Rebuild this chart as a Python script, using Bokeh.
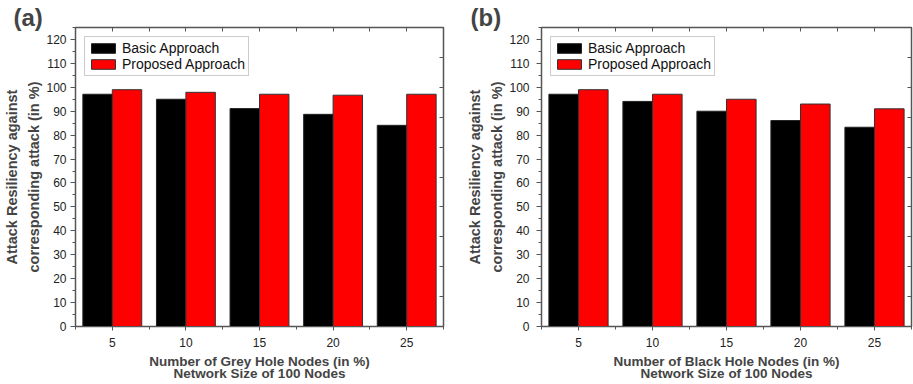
from bokeh.plotting import figure
from bokeh.layouts import row
from bokeh.models import (Range1d, LinearAxis, FixedTicker, Title,
                          Legend, LegendItem, ColumnDataSource)
from bokeh.embed import file_html
from bokeh.resources import INLINE

# ---------------- data ----------------
nodes = [5, 10, 15, 20, 25]
x_ticks = [5, 10, 15, 20, 25]
y_ticks = [0, 10, 20, 30, 40, 50, 60, 70, 80, 90, 100, 110, 120]

grey_basic = [97.1, 95.0, 91.1, 88.7, 84.1]
grey_proposed = [99.0, 97.9, 97.1, 96.7, 97.1]

black_basic = [97.1, 94.1, 90.0, 86.1, 83.3]
black_proposed = [99.0, 97.1, 95.0, 93.0, 91.0]

series_names = ["Basic Approach", "Proposed Approach"]
y_title = ["Attack Resiliency against", "corresponding attack (in %)"]
x_titles_a = ["Number of Grey Hole Nodes (in %)", "Network Size of 100 Nodes"]
x_titles_b = ["Number of Black Hole Nodes (in %)", "Network Size of 100 Nodes"]

FONT = "Liberation Sans"
AX = "#555555"
H = 384


def make_panel(tag, basic, proposed, xtitles, width, bl, br, bt, bb,
               tag_offset, ylab_standoff):
    p = figure(width=width, height=H, output_backend="svg", toolbar_location=None,
               x_range=Range1d(2.5, 27.5), y_range=Range1d(0, 125),
               min_border_left=bl, min_border_right=br, min_border_top=bt,
               min_border_bottom=bb, x_axis_location=None, y_axis_location=None)
    p.xgrid.visible = False
    p.ygrid.visible = False
    p.outline_line_color = AX
    p.outline_line_width = 1.5

    # bottom axis
    xb = LinearAxis(ticker=FixedTicker(ticks=x_ticks,
                                       minor_ticks=[2.5, 7.5, 12.5, 17.5, 22.5, 27.5]))
    xb.major_tick_out = 4
    xb.major_tick_in = 0
    xb.minor_tick_out = 3
    xb.minor_tick_in = 0
    xb.axis_line_color = AX
    xb.major_tick_line_color = AX
    xb.minor_tick_line_color = AX
    xb.major_label_text_font = FONT
    xb.major_label_text_font_size = "12px"
    xb.major_label_text_color = "#222222"
    xb.major_label_standoff = 7
    p.add_layout(xb, "below")

    # left axis
    yl = LinearAxis(ticker=FixedTicker(ticks=y_ticks,
                                       minor_ticks=[v + 5 for v in y_ticks]))
    yl.major_tick_out = 5
    yl.major_tick_in = 0
    yl.minor_tick_out = 3
    yl.minor_tick_in = 0
    yl.axis_line_color = AX
    yl.major_tick_line_color = AX
    yl.minor_tick_line_color = AX
    yl.major_label_text_font = FONT
    yl.major_label_text_font_size = "12px"
    yl.major_label_text_color = "#222222"
    yl.major_label_standoff = ylab_standoff
    p.add_layout(yl, "left")

    # top mirror axis (ticks only)
    top_ticks = [2.5 * i for i in range(1, 12)]
    xt = LinearAxis(ticker=FixedTicker(ticks=top_ticks, minor_ticks=[]))
    xt.major_tick_in = 4
    xt.major_tick_out = 0
    xt.minor_tick_line_color = None
    xt.axis_line_color = AX
    xt.major_tick_line_color = AX
    xt.major_label_text_color = None
    xt.major_label_text_font_size = "1px"
    xt.major_label_standoff = 0
    p.add_layout(xt, "above")

    # right mirror axis (ticks only)
    right_ticks = [12.5 * i for i in range(1, 10)]
    yr = LinearAxis(ticker=FixedTicker(ticks=right_ticks, minor_ticks=[]))
    yr.major_tick_in = 4
    yr.major_tick_out = 0
    yr.minor_tick_line_color = None
    yr.axis_line_color = AX
    yr.major_tick_line_color = AX
    yr.major_label_text_color = None
    yr.major_label_text_font_size = "1px"
    yr.major_label_standoff = 0
    p.add_layout(yr, "right")

    src = ColumnDataSource(dict(
        xb=[n - 1 for n in nodes], xp=[n + 1 for n in nodes],
        basic=basic, proposed=proposed))
    r1 = p.vbar(x="xb", top="basic", width=2, bottom=0, source=src,
                fill_color="#000000", line_color="#222222", line_width=1)
    r2 = p.vbar(x="xp", top="proposed", width=2, bottom=0, source=src,
                fill_color="#ff0000", line_color="#333333", line_width=1)

    legend = Legend(items=[LegendItem(label=series_names[0], renderers=[r1]),
                           LegendItem(label=series_names[1], renderers=[r2])],
                    location="top_left")
    legend.margin = 9
    legend.padding = 3
    legend.spacing = 0
    legend.glyph_width = 30
    legend.glyph_height = 12
    legend.label_standoff = 4
    legend.label_height = 13
    legend.label_text_font = FONT
    legend.label_text_font_size = "14px"
    legend.label_text_color = "#111111"
    legend.border_line_color = "#999999"
    legend.border_line_width = 1
    legend.background_fill_alpha = 1
    p.add_layout(legend, "center")

    # y-axis title lines (nearest first)
    p.add_layout(Title(text=y_title[1], align="center", text_font=FONT,
                       text_font_style="bold", text_font_size="14.5px",
                       standoff=4), "left")
    p.add_layout(Title(text=y_title[0], align="center", text_font=FONT,
                       text_font_style="bold", text_font_size="14.5px",
                       standoff=3), "left")
    # x-axis title lines (nearest first)
    p.add_layout(Title(text=xtitles[0], align="center", text_font=FONT,
                       text_font_style="bold", text_font_size="13.5px",
                       standoff=5), "below")
    p.add_layout(Title(text=xtitles[1], align="center", text_font=FONT,
                       text_font_style="bold", text_font_size="13.5px",
                       standoff=-16), "below")

    # panel tag
    p.add_layout(Title(text=tag, align="left", offset=tag_offset, text_font=FONT,
                       text_font_style="bold", text_font_size="24px",
                       vertical_align="top", standoff=-11), "above")
    return p


pa = make_panel("(a)", grey_basic, grey_proposed, x_titles_a,
                455, 75, 12, 27, 57, -62, 4)
pb = make_panel("(b)", black_basic, black_proposed, x_titles_b,
                458, 86, 2, 24, 58, -71, 7)

layout = row(pa, pb, spacing=0)
open("out.html", "w").write(file_html(layout, INLINE))
